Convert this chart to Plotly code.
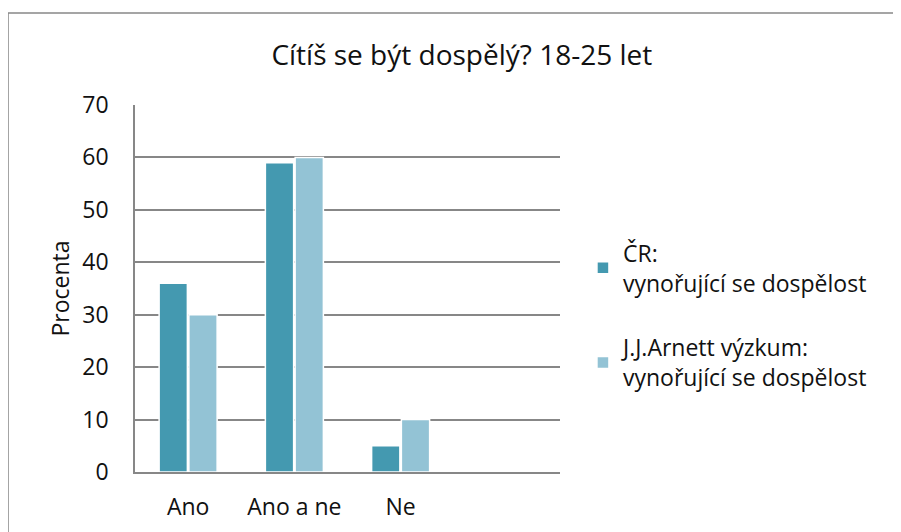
import plotly.graph_objects as go

categories = ["Ano", "Ano a ne", "Ne"]
cr_values = [36, 59, 5]
arnett_values = [30, 60, 10]
series_names = ["ČR:<br>vynořující se dospělost", "J.J.Arnett výzkum:<br>vynořující se dospělost"]
y_ticks = [0, 10, 20, 30, 40, 50, 60, 70]

FONT = "Open Sans"
DARK = "#4499B0"
LIGHT = "#93C3D5"
GRID = "#878787"

fig = go.Figure()
for i, (name, vals, color) in enumerate(
    [(series_names[0], cr_values, DARK), (series_names[1], arnett_values, LIGHT)]
):
    fig.add_trace(
        go.Bar(
            x=categories,
            y=vals,
            name=name,
            legendgroup=f"g{i}",
            marker=dict(color=color, line=dict(color="white", width=1.5)),
        )
    )

fig.update_layout(
    width=901,
    height=532,
    paper_bgcolor="white",
    plot_bgcolor="white",
    font=dict(family=FONT, size=23, color="#111111"),
    title=dict(
        text="Cítíš se být dospělý? 18-25 let",
        x=0.769,
        xref="paper",
        xanchor="center",
        y=0.912,
        yref="container",
        yanchor="middle",
        font=dict(family=FONT, size=28, color="#111111"),
    ),
    # page has an 8px body margin, so plot area sits at 135..560 x 105..472 on screen
    margin=dict(l=127, r=349, t=97, b=68, autoexpand=False),
    barmode="group",
    bargap=0.44,
    bargroupgap=0.05,
    showlegend=True,
    legend=dict(
        x=1.054,
        y=0.656,
        xanchor="left",
        yanchor="top",
        font=dict(family=FONT, size=23, color="#111111"),
        itemwidth=30,
        tracegroupgap=32,
    ),
    shapes=[
        dict(
            type="rect",
            xref="paper",
            yref="paper",
            x0=-0.2988,
            x1=1.9,
            y0=-0.3,
            y1=1.2507,
            line=dict(color="#888888", width=1.5),
            fillcolor="rgba(0,0,0,0)",
            layer="below",
        )
    ],
)

fig.update_xaxes(
    range=[-0.5, 3.5],
    showgrid=False,
    showline=True,
    linecolor=GRID,
    linewidth=1.5,
    ticks="",
    tickfont=dict(family=FONT, size=23),
    ticklabelstandoff=14,
    automargin=False,
)
fig.update_yaxes(
    range=[0, 70],
    tickvals=y_ticks,
    showgrid=True,
    gridcolor=GRID,
    gridwidth=1.5,
    showline=True,
    linecolor=GRID,
    linewidth=1.5,
    ticks="",
    zeroline=False,
    tickfont=dict(family=FONT, size=23),
    ticklabelstandoff=20,
    automargin=False,
    title=dict(text="Procenta", font=dict(family=FONT, size=23), standoff=6),
)

fig.write_html("out.html")
